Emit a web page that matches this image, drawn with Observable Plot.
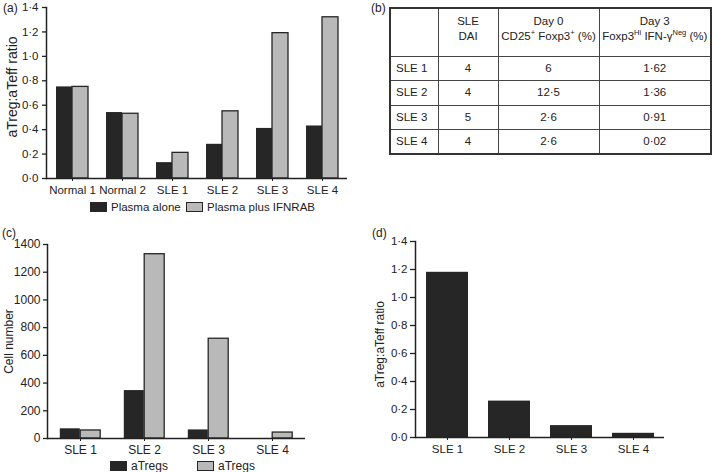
<!DOCTYPE html>
<html><head><meta charset="utf-8">
<script src="https://cdn.jsdelivr.net/npm/d3@7"></script>
<script src="https://cdn.jsdelivr.net/npm/@observablehq/plot@0.6"></script>
<style>
body{margin:0;background:#fff;font-family:"Liberation Sans",Arial,Helvetica,sans-serif;color:#222;}
#root{position:relative;width:712px;height:472px;overflow:hidden;background:#fff;}
.sw{position:absolute;width:17px;height:10px;box-sizing:border-box;}
.lt{position:absolute;font-size:12px;line-height:12px;white-space:nowrap;}
table{position:absolute;left:389px;top:7px;width:321px;border-collapse:collapse;font-size:11.5px;line-height:15px;border:2px solid #333;table-layout:fixed;}
td{border:1px solid #444;text-align:center;padding:0;vertical-align:middle;white-space:nowrap;}
td.first{text-align:left;padding-left:5px;}
tr.head td{padding-bottom:6px;}
sup{font-size:7.5px;line-height:0;vertical-align:5px;}
</style></head><body><div id="root"></div>
<script>
// ---------- Panel (a) data ----------
const groupsA = ["Normal 1", "Normal 2", "SLE 1", "SLE 2", "SLE 3", "SLE 4"];
const plasmaAlone = [0.75, 0.54, 0.13, 0.28, 0.41, 0.43];
const plasmaIFNRAB = [0.75, 0.53, 0.21, 0.55, 1.19, 1.32];
const seriesA = ["Plasma alone", "Plasma plus IFNRAB"];
const ratioTicks = [0, 0.2, 0.4, 0.6, 0.8, 1.0, 1.2, 1.4];
const ratioLabel = "aTreg:aTeff ratio";

// ---------- Panel (b) table data ----------
const tableHead1 = ["", "SLE", "Day 0", "Day 3"];
const tableHead2 = ["", "DAI", "CD25<sup>+</sup> Foxp3<sup>+</sup> (%)", "Foxp3<sup>Hi</sup> IFN-γ<sup>Neg</sup> (%)"];
const tablePatients = ["SLE 1", "SLE 2", "SLE 3", "SLE 4"];
const tableDAI = ["4", "4", "5", "4"];
const tableDay0 = ["6", "12·5", "2·6", "2·6"];
const tableDay3 = ["1·62", "1·36", "0·91", "0·02"];

// ---------- Panel (c) data ----------
const groupsC = ["SLE 1", "SLE 2", "SLE 3", "SLE 4"];
const cellsDark = [70, 346, 62, 0];
const cellsLight = [58, 1330, 720, 43];
const seriesC = ["aTregs", "aTregs"];
const cellTicks = [0, 200, 400, 600, 800, 1000, 1200, 1400];
const cellLabel = "Cell number";

// ---------- Panel (d) data ----------
const groupsD = ["SLE 1", "SLE 2", "SLE 3", "SLE 4"];
const ratioD = [1.18, 0.26, 0.085, 0.03];

const DARK = "#262626", LIGHT = "#b9b9b9", INK = "#222";
const FONT = '"Liberation Sans", Arial, Helvetica, sans-serif';
const fmtDot = d => d3.format(".1f")(d).replace(".", "\u00b7");
const fmtInt = d3.format("d");
const root = document.getElementById("root");

function place(el, left, top) {
  el.style.position = "absolute"; el.style.left = left + "px"; el.style.top = top + "px";
  root.appendChild(el); return el;
}
function addText(html, left, top, size) {
  const d = document.createElement("div");
  d.className = "lt"; d.innerHTML = html;
  if (size) d.style.fontSize = size + "px";
  d.style.left = left + "px"; d.style.top = top + "px";
  root.appendChild(d); return d;
}
function addSwatch(color, left, top) {
  const d = document.createElement("div");
  d.className = "sw"; d.style.left = left + "px"; d.style.top = top + "px";
  d.style.background = color; d.style.border = "1.3px solid " + DARK;
  root.appendChild(d);
}

// ---------- Panel (a) ----------
const dataA = groupsA.map((g, i) => ({group: g, dark: plasmaAlone[i], light: plasmaIFNRAB[i]}));
const plotA = Plot.plot({
  width: 360, height: 200, marginLeft: 46, marginRight: 13, marginTop: 7, marginBottom: 22,
  style: {fontFamily: FONT, fontSize: "11.5px", color: INK, background: "transparent"},
  x: {domain: groupsA, paddingInner: 0.68, paddingOuter: 0.34, label: null},
  y: {domain: [0, 1.4], label: null},
  marks: [
    Plot.barY(dataA, {x: "group", y: "dark", fill: DARK, dx: -8}),
    Plot.barY(dataA, {x: "group", y: "light", fill: LIGHT, stroke: DARK, strokeWidth: 1.3, dx: 8}),
    Plot.axisY(ratioTicks, {tickFormat: fmtDot, tickSize: 4, tickPadding: 4, label: null, stroke: INK, strokeWidth: 1.3}),
    Plot.axisX({tickSize: 3, tickPadding: 4, label: null, stroke: INK}),
    Plot.ruleY([0], {stroke: INK, strokeWidth: 1.5}),
    Plot.frame({anchor: "left", stroke: INK, strokeWidth: 1.5}),
    Plot.text([ratioLabel], {frameAnchor: "left", textAnchor: "middle", lineAnchor: "middle", rotate: -90, dx: -34, dy: -6, fontSize: 14, fill: INK})
  ]
});
place(plotA, 0, 0);
addText("(a)", 3, 2);
addSwatch(DARK, 90, 202); addText(seriesA[0], 111, 201, 11.5);
addSwatch(LIGHT, 186, 202); addText(seriesA[1], 207, 201, 11.5);

// ---------- Panel (b) ----------
addText("(b)", 371, 2);
const tbl = document.createElement("table");
let html = '<colgroup><col style="width:48px"><col style="width:60px"><col style="width:101px"><col style="width:112px"></colgroup>';
html += '<tr class="head" style="height:48px">' + tableHead1.map((h, i) => '<td>' + (h ? h + '<br>' + tableHead2[i] : '') + '</td>').join('') + '</tr>';
tablePatients.forEach((p, i) => {
  html += '<tr style="height:24.5px"><td class="first">' + p + '</td><td>' + tableDAI[i] + '</td><td>' + tableDay0[i] + '</td><td>' + tableDay3[i] + '</td></tr>';
});
tbl.innerHTML = html;
root.appendChild(tbl);

// ---------- Panel (c) ----------
const dataC = groupsC.map((g, i) => ({group: g, dark: cellsDark[i], light: cellsLight[i]}));
const plotC = Plot.plot({
  width: 360, height: 232, marginLeft: 47, marginRight: 55, marginTop: 19, marginBottom: 19,
  style: {fontFamily: FONT, fontSize: "12px", color: INK, background: "transparent"},
  x: {domain: groupsC, paddingInner: 0.685, paddingOuter: 0.3425, label: null},
  y: {domain: [0, 1400], label: null},
  marks: [
    Plot.barY(dataC.filter(d => d.dark > 0), {x: "group", y: "dark", fill: DARK, dx: -10.2}),
    Plot.barY(dataC, {x: "group", y: "light", fill: LIGHT, stroke: DARK, strokeWidth: 1.3, dx: 10.2}),
    Plot.axisY(cellTicks, {tickFormat: fmtInt, tickSize: 4, tickPadding: 3, label: null, stroke: INK, strokeWidth: 1.3}),
    Plot.axisX({tickSize: 3, tickPadding: 4, label: null, stroke: INK}),
    Plot.ruleY([0], {stroke: INK, strokeWidth: 1.5}),
    Plot.frame({anchor: "left", stroke: INK, strokeWidth: 1.5}),
    Plot.text([cellLabel], {frameAnchor: "left", textAnchor: "middle", lineAnchor: "middle", rotate: -90, dx: -38, dy: 0, fontSize: 12, fill: INK})
  ]
});
place(plotC, 0, 225);
addText("(c)", 2, 227);
addSwatch(DARK, 110, 461); addText(seriesC[0], 131, 460);
addSwatch(LIGHT, 197, 461); addText(seriesC[1], 218, 460);

// ---------- Panel (d) ----------
const dataD = groupsD.map((g, i) => ({group: g, value: ratioD[i]}));
const plotD = Plot.plot({
  width: 352, height: 232, marginLeft: 55, marginRight: 48, marginTop: 16, marginBottom: 20,
  style: {fontFamily: FONT, fontSize: "11.5px", color: INK, background: "transparent"},
  x: {domain: groupsD, paddingInner: 0.325, paddingOuter: 0.1625, label: null},
  y: {domain: [0, 1.4], label: null},
  marks: [
    Plot.barY(dataD, {x: "group", y: "value", fill: DARK}),
    Plot.axisY(ratioTicks, {tickFormat: fmtDot, tickSize: 5, tickPadding: 3, label: null, stroke: INK, strokeWidth: 1.3}),
    Plot.axisX({tickSize: 3, tickPadding: 4, label: null, stroke: INK}),
    Plot.ruleY([0], {stroke: INK, strokeWidth: 1.5}),
    Plot.frame({anchor: "left", stroke: INK, strokeWidth: 1.5}),
    Plot.text([ratioLabel], {frameAnchor: "left", textAnchor: "middle", lineAnchor: "middle", rotate: -90, dx: -35, dy: 5, fontSize: 12, fill: INK})
  ]
});
place(plotD, 360, 225);
addText("(d)", 372, 227);
</script></body></html>
